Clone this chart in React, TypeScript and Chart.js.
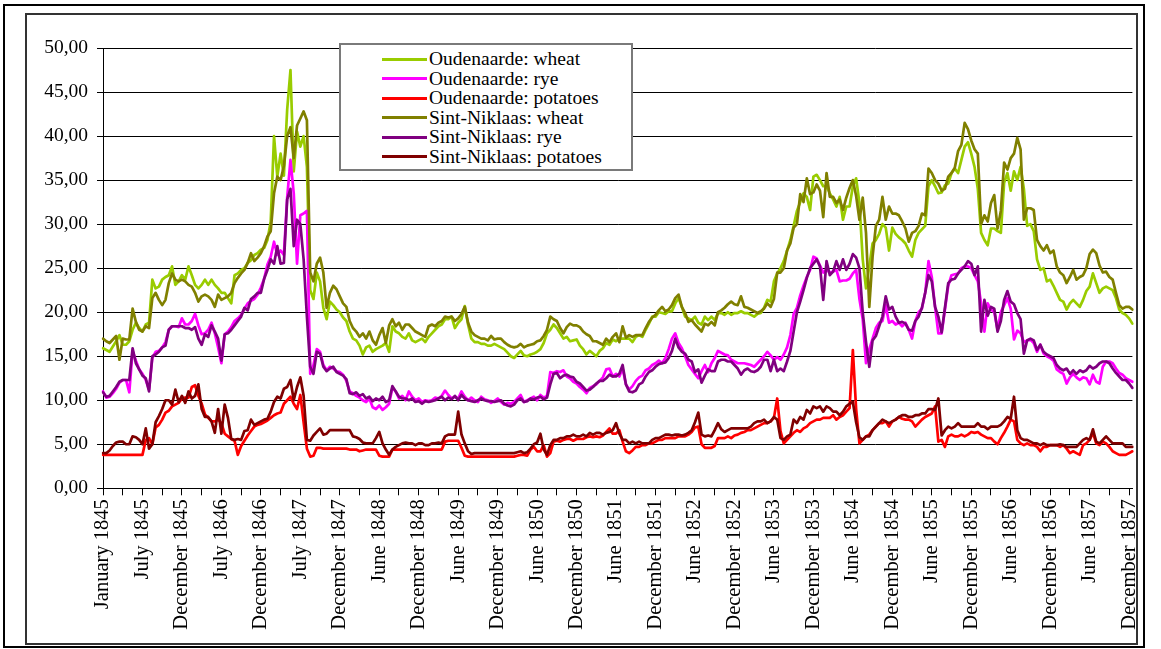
import React, { useEffect, useRef } from 'react';
import { Chart, registerables } from 'chart.js';

Chart.register(...registerables);

// Half-monthly observations, January 1845 - December 1857 (314 points)
const OUDENAARDE_WHEAT = [
  15.9, 15.7, 15.5, 16.1, 16.7, 17.4, 16.3, 16.3, 16.7, 18.0,
  18.8, 18.2, 17.8, 18.6, 18.8, 23.7, 22.7, 22.9, 23.7, 24.0,
  24.2, 25.2, 23.1, 23.5, 24.2, 23.7, 25.2, 24.2, 23.1, 22.7,
  23.1, 23.7, 23.1, 23.7, 23.1, 22.7, 22.2, 22.2, 21.6, 21.0,
  24.2, 24.4, 24.8, 25.0, 25.6, 25.9, 26.5, 26.7, 27.1, 27.3,
  28.2, 30.3, 40.0, 35.4, 38.0, 35.5, 43.0, 47.5, 36.0, 40.5,
  38.8, 40.0, 36.5, 22.5, 21.5, 24.5, 23.5, 20.5, 19.2, 21.2,
  20.8, 20.3, 20.0, 19.4, 19.0, 17.8, 17.0, 16.8, 16.2, 15.2,
  16.0, 16.2, 15.5, 15.8, 16.0, 16.2, 16.5, 15.5, 18.4, 17.8,
  17.6, 17.2, 17.0, 17.6, 16.8, 16.6, 16.8, 17.0, 16.6, 17.2,
  17.6, 18.0, 18.4, 18.6, 19.2, 19.2, 19.5, 18.2, 18.8, 19.2,
  20.7, 18.6, 17.0, 16.6, 16.6, 16.4, 16.4, 16.2, 16.2, 16.4,
  16.2, 16.0, 15.8, 15.4, 15.0, 14.8, 15.2, 15.6, 15.1, 15.0,
  15.2, 15.3, 15.5, 15.8, 16.5, 17.6, 18.0, 18.6, 18.2, 17.6,
  17.0, 17.2, 16.7, 16.8, 16.9, 16.2, 15.8, 15.2, 15.6, 15.3,
  15.0, 15.6, 15.9, 16.5, 16.3, 16.9, 16.7, 17.0, 17.0, 17.0,
  17.0, 16.6, 17.2, 17.4, 17.2, 18.0, 18.7, 19.5, 19.5, 20.0,
  19.9, 19.8, 20.1, 20.1, 21.0, 21.6, 20.6, 19.5, 19.3, 19.1,
  19.5, 18.8, 18.6, 19.5, 19.1, 19.5, 19.1, 19.9, 19.9, 19.7,
  20.0, 19.7, 19.9, 19.9, 20.1, 19.9, 19.9, 19.7, 19.5, 19.8,
  19.9, 20.5, 21.4, 21.2, 23.5, 24.4, 25.0, 25.8, 27.0, 28.2,
  29.8, 31.5, 32.5, 33.5, 33.1, 31.6, 35.4, 35.6, 35.0, 34.3,
  34.3, 33.5, 32.8, 32.0, 33.1, 30.5, 32.0, 32.0, 34.3, 35.2,
  32.4, 26.0, 22.7, 25.2, 27.8, 28.2, 28.9, 30.0, 29.6, 27.0,
  29.6, 28.9, 28.5, 28.2, 27.8, 27.0, 26.3, 28.2, 29.0, 29.4,
  29.8, 34.3, 35.0, 34.3, 33.5, 33.6, 34.4, 34.6, 35.8, 36.3,
  35.8, 37.3, 38.8, 39.3, 38.0, 36.5, 34.0, 29.0, 28.2, 27.6,
  29.5, 29.5, 29.2, 29.0, 34.7, 35.8, 33.8, 36.0, 35.0, 36.5,
  34.0, 29.8, 30.0, 29.2, 26.0, 24.8, 25.0, 23.5, 23.7, 23.0,
  22.2, 21.4, 21.2, 20.3, 21.0, 21.4, 21.0, 20.6, 21.4, 22.4,
  22.9, 24.4, 23.3, 22.2, 22.7, 22.9, 22.7, 22.5, 21.6, 20.3,
  19.9, 19.7, 19.3, 18.7,
];

const OUDENAARDE_RYE = [
  11.0, 10.3, 10.4, 10.8, 11.3, 12.0, 12.3, 12.3, 10.9, 15.6,
  14.5, 13.5, 13.0, 12.3, 11.2, 14.8, 15.5, 15.6, 16.0, 16.6,
  18.0, 18.4, 18.4, 18.3, 19.3, 18.6, 18.6, 19.0, 19.8, 18.5,
  17.5, 17.6, 18.0, 18.8, 17.6, 16.0, 14.2, 17.5, 17.8, 18.3,
  19.0, 19.3, 19.7, 20.4, 21.0, 21.3, 21.5, 22.0, 22.8, 23.8,
  25.4, 26.3, 28.0, 26.5, 27.0, 26.5, 33.0, 37.3, 33.5, 25.5,
  31.0, 31.2, 31.5, 13.0, 14.0, 15.8, 15.5, 14.0, 13.4, 13.8,
  13.6, 13.3, 13.2, 12.9, 12.2, 11.0, 10.8, 10.5, 10.3, 10.0,
  9.8, 10.2, 9.2, 9.0, 9.4, 8.9, 9.2, 9.6, 11.4, 11.0,
  10.2, 10.5, 10.0, 11.0, 10.4, 10.0, 10.2, 9.8, 10.0, 9.9,
  10.0, 10.3, 10.2, 10.5, 11.1, 10.6, 10.2, 10.4, 10.2, 11.0,
  10.4, 10.0, 10.3, 10.0, 9.8, 10.4, 10.1, 10.0, 9.7, 9.9,
  10.2, 9.8, 9.5, 9.7, 9.6, 9.8, 10.2, 10.6, 9.8, 10.0,
  10.2, 10.4, 10.0, 10.6, 10.3, 10.5, 13.2, 13.1, 13.3, 13.2,
  13.4, 12.7, 12.5, 12.1, 11.9, 11.5, 11.2, 10.8, 11.4, 11.6,
  11.8, 12.2, 12.6, 13.5, 13.6, 12.7, 13.0, 12.7, 13.6, 11.8,
  11.2, 11.6, 12.2, 12.6, 12.8, 13.4, 13.6, 14.0, 14.2, 14.5,
  14.2, 14.8, 15.8, 17.0, 17.6, 16.5, 15.9, 15.0, 14.0, 13.5,
  13.0, 12.5, 13.3, 14.0, 13.2, 14.2, 14.8, 15.6, 15.4, 15.2,
  15.1, 14.6, 14.4, 14.2, 14.2, 14.2, 14.1, 14.0, 13.8, 14.2,
  14.6, 15.0, 15.5, 15.1, 14.6, 14.9, 14.6, 15.2, 16.0, 17.4,
  19.8, 20.5, 21.9, 23.0, 24.0, 24.8, 26.3, 26.1, 25.3, 24.5,
  24.8, 24.5, 24.6, 24.8, 23.5, 23.6, 23.6, 23.8, 24.4, 24.8,
  21.5, 19.2, 14.2, 15.8, 17.0, 18.2, 18.8, 19.0, 20.8, 18.8,
  19.0, 18.6, 18.8, 18.4, 18.8, 18.0, 17.0, 19.0, 20.0, 20.4,
  22.2, 25.8, 24.0, 20.6, 17.6, 17.6, 20.3, 23.0, 24.2, 24.3,
  24.4, 25.0, 25.2, 25.2, 25.0, 24.2, 23.5, 21.0, 17.8, 21.0,
  20.3, 20.0, 18.0, 20.0, 20.8, 21.6, 20.4, 16.9, 17.9, 17.6,
  16.6, 16.8, 16.9, 16.5, 15.5, 16.3, 15.3, 15.0, 14.8, 14.5,
  13.5, 13.2, 13.0, 11.9, 12.6, 13.0, 12.6, 12.3, 12.6, 12.5,
  11.8, 12.9, 12.1, 11.9, 13.8, 14.4, 14.4, 14.2, 13.6, 13.1,
  12.9, 12.5, 12.3, 12.1,
];

const OUDENAARDE_POTATOES = [
  3.8, 3.8, 3.8, 3.8, 3.8, 3.8, 3.8, 3.8, 3.8, 3.8,
  3.8, 3.8, 3.8, 5.5, 5.7, 5.0, 6.9, 7.2, 7.8, 8.6,
  8.8, 9.3, 9.5, 9.7, 10.2, 10.3, 10.3, 11.5, 11.7, 10.5,
  9.6, 8.4, 8.0, 7.6, 7.6, 7.8, 7.4, 6.2, 5.9, 5.6,
  5.4, 3.8, 4.8, 5.4, 6.0, 6.5, 7.0, 7.2, 7.3, 7.5,
  7.7, 8.0, 8.3, 8.5, 8.6, 9.6, 10.0, 10.4, 9.6, 9.0,
  10.6, 7.5, 4.5, 3.6, 3.7, 4.6, 4.6, 4.5, 4.5, 4.5,
  4.5, 4.5, 4.5, 4.5, 4.5, 4.4, 4.4, 4.4, 4.2, 4.3,
  4.4, 4.4, 4.4, 4.4, 3.7, 3.6, 3.6, 3.6, 4.4, 4.4,
  4.4, 4.4, 4.4, 4.4, 4.4, 4.4, 4.4, 4.4, 4.4, 4.4,
  4.4, 4.4, 4.4, 4.4, 5.3, 5.4, 5.4, 5.4, 5.4, 4.6,
  3.7, 3.6, 3.6, 3.6, 3.6, 3.6, 3.6, 3.6, 3.6, 3.6,
  3.6, 3.6, 3.6, 3.6, 3.6, 3.6, 3.7, 3.8, 3.8, 3.7,
  4.4, 4.7, 4.2, 4.2, 4.9, 3.6, 4.0, 5.3, 5.4, 5.3,
  5.5, 5.6, 5.6, 5.4, 5.6, 5.6, 5.6, 5.8, 5.9, 5.8,
  5.9, 5.8, 6.0, 6.4, 6.8, 6.2, 6.2, 6.6, 5.3, 4.2,
  4.0, 4.3, 4.7, 4.7, 4.9, 4.9, 5.1, 5.1, 5.3, 5.5,
  5.5, 5.7, 5.7, 5.7, 5.7, 5.9, 5.9, 5.9, 6.1, 6.4,
  6.9, 7.0, 5.0, 4.6, 4.6, 4.6, 4.8, 5.7, 5.7, 5.7,
  5.9, 5.7, 6.0, 6.1, 6.3, 6.4, 6.6, 6.6, 6.8, 7.0,
  7.2, 7.4, 7.4, 7.6, 8.0, 10.2, 6.5, 5.1, 5.5, 5.9,
  6.3, 6.6, 6.4, 6.8, 7.0, 7.4, 7.6, 7.8, 7.8, 8.0,
  8.0, 8.0, 8.3, 7.8, 8.1, 8.3, 8.7, 9.1, 15.7, 9.0,
  5.1, 5.5, 5.9, 6.1, 6.6, 7.0, 7.4, 7.4, 7.6, 7.0,
  7.6, 7.8, 8.1, 7.9, 7.8, 7.8, 7.6, 7.0, 7.4, 7.8,
  8.1, 8.3, 8.5, 9.3, 5.3, 5.5, 4.7, 5.9, 6.1, 5.9,
  5.9, 6.1, 5.9, 6.1, 6.4, 6.3, 6.4, 6.1, 5.9, 5.7,
  5.7, 5.3, 5.0, 5.7, 6.3, 7.0, 7.8, 7.6, 5.5, 5.1,
  4.9, 5.1, 4.9, 4.9, 4.7, 4.2, 4.7, 4.7, 4.9, 4.9,
  4.9, 4.7, 4.9, 4.5, 4.0, 4.2, 4.0, 3.8, 4.9, 5.1,
  5.5, 6.3, 5.1, 4.9, 5.3, 5.1, 4.7, 4.2, 4.0, 3.8,
  3.8, 3.8, 4.0, 4.2,
];

const SINT_NIKLAAS_WHEAT = [
  17.0, 16.7, 16.5, 16.9, 17.3, 14.6, 17.0, 16.9, 16.9, 20.4,
  18.9, 18.0, 17.8, 18.4, 18.2, 21.6, 22.2, 21.4, 20.8, 21.4,
  23.3, 24.4, 23.7, 23.5, 23.7, 23.5, 23.1, 22.9, 22.2, 21.2,
  21.8, 22.0, 21.8, 21.4, 20.6, 22.0, 21.4, 21.6, 21.8, 22.2,
  23.3, 23.9, 24.4, 24.8, 25.6, 26.7, 25.8, 26.2, 26.7, 27.5,
  28.6, 29.2, 33.5, 35.4, 35.0, 36.6, 40.0, 41.0, 37.5, 41.2,
  42.0, 42.8, 41.8, 24.5, 23.5, 25.5, 26.2, 24.5, 20.5, 22.2,
  23.0, 22.6, 21.8, 21.0, 20.6, 19.0, 18.2, 17.8, 17.2, 17.6,
  17.0, 17.8, 16.8, 16.3, 17.4, 18.2, 16.5, 18.5, 19.2, 18.4,
  18.8, 18.0, 18.6, 18.6, 18.2, 17.8, 17.6, 17.4, 17.2, 18.4,
  18.6, 18.4, 18.8, 19.0, 19.5, 19.4, 19.5, 19.0, 19.3, 19.8,
  20.6, 18.8, 17.8, 17.4, 17.2, 17.0, 17.0, 16.8, 17.3, 16.9,
  17.0, 17.0, 16.6, 16.3, 16.1, 16.0, 16.1, 16.4, 16.0, 16.2,
  16.3, 16.4, 16.7, 16.8, 17.3, 18.0, 19.5, 19.2, 19.0, 18.2,
  17.6, 18.3, 18.7, 18.5, 18.5, 18.3, 17.8, 17.5, 17.3, 16.7,
  16.7, 16.5, 16.3, 17.0, 16.6, 17.2, 17.6, 16.6, 18.4, 17.1,
  17.4, 17.2, 17.4, 17.4, 17.4, 18.2, 18.9, 19.4, 19.7, 20.2,
  20.6, 20.1, 20.3, 20.8, 21.6, 22.0, 20.6, 19.9, 18.9, 19.1,
  18.6, 18.2, 17.8, 18.7, 18.5, 18.9, 18.5, 20.0, 20.2, 20.5,
  20.9, 21.2, 20.9, 20.8, 21.8, 20.6, 20.5, 20.3, 20.1, 19.9,
  20.1, 20.4, 21.0, 20.6, 21.5, 24.5, 24.5, 25.0, 27.0, 27.8,
  29.6, 30.0, 33.4, 32.5, 35.2, 33.4, 33.6, 34.5, 33.8, 30.8,
  35.8, 33.1, 33.1, 32.4, 32.8, 31.6, 33.0, 34.1, 35.0, 33.2,
  30.5, 33.0, 29.0, 20.6, 26.3, 29.8, 30.5, 33.1, 30.5, 32.0,
  31.2, 31.2, 31.0, 30.3, 29.5, 28.0, 29.0, 29.2, 29.8, 31.2,
  31.0, 36.3, 35.8, 35.0, 34.6, 33.8, 34.0, 35.4, 35.8, 36.4,
  38.3, 39.0, 41.5, 40.8, 39.5, 38.5, 38.0, 30.0, 31.0, 30.3,
  32.4, 33.3, 29.5, 31.5, 37.0, 36.2, 37.5, 38.0, 39.8, 38.5,
  30.5, 31.8, 31.8, 31.6, 28.2, 27.5, 27.0, 27.6, 26.7, 27.0,
  25.2, 24.5, 24.2, 23.3, 24.0, 24.8, 23.7, 24.0, 24.2, 25.0,
  26.6, 27.1, 26.7, 25.3, 24.5, 24.6, 24.0, 23.7, 22.2, 20.8,
  20.4, 20.6, 20.6, 20.3,
];

const SINT_NIKLAAS_RYE = [
  10.9, 10.4, 10.5, 11.0, 11.5, 12.1, 12.3, 12.3, 12.3, 15.9,
  14.2, 13.5, 12.8, 12.5, 11.0, 15.0, 15.2, 15.5, 16.0, 16.2,
  18.0, 18.4, 18.4, 18.4, 18.4, 18.2, 18.2, 18.0, 18.3, 17.0,
  16.3, 17.5, 17.2, 18.5, 17.8, 17.0, 14.5, 17.5, 17.6, 18.0,
  18.5, 19.0, 19.5, 20.5, 20.2, 21.5, 21.8, 22.2, 22.2, 23.8,
  24.8, 26.0, 25.5, 27.5, 25.5, 25.6, 32.8, 34.0, 27.5, 30.5,
  30.0, 26.0, 19.5, 13.8, 13.0, 15.5, 15.3, 13.8, 13.3, 13.6,
  13.8, 13.2, 13.0, 12.8, 12.4, 10.8, 10.7, 10.9, 10.5, 10.7,
  10.2, 10.4, 9.9, 10.2, 10.0, 10.4, 9.8, 10.0, 11.6, 11.0,
  10.4, 10.2, 10.2, 10.0, 10.2, 9.8, 9.9, 9.6, 9.9, 9.8,
  9.9, 10.0, 10.2, 10.4, 10.0, 10.3, 10.1, 10.5, 10.0, 10.6,
  10.2, 10.0, 9.9, 9.8, 10.0, 10.2, 10.0, 9.9, 9.9, 9.8,
  9.9, 10.0, 9.6, 9.4, 9.3, 9.5, 10.0, 10.2, 9.8, 9.9,
  10.2, 10.1, 10.3, 10.4, 10.1, 10.3, 11.8, 13.0, 13.1, 12.5,
  12.8, 12.9, 12.7, 12.6, 12.1, 11.9, 11.5, 11.1, 11.2, 11.5,
  11.9, 12.2, 12.2, 12.5, 12.9, 12.7, 12.7, 13.0, 14.0, 11.8,
  11.0, 10.9, 11.1, 11.8, 12.0, 12.7, 13.2, 13.4, 13.8, 14.1,
  14.2, 14.3, 14.8, 15.6, 17.0, 16.0, 15.5, 15.3, 14.6, 14.4,
  13.2, 13.5, 12.0, 12.8, 13.5, 13.3, 13.3, 14.4, 14.6, 14.6,
  14.4, 14.4, 14.0, 13.6, 12.9, 13.4, 13.6, 13.3, 13.2, 13.4,
  13.8, 14.6, 14.6, 13.3, 14.6, 13.3, 13.6, 13.3, 14.4, 15.6,
  17.8, 20.0, 21.2, 22.5, 23.9, 25.0, 25.5, 26.0, 25.2, 21.4,
  25.8, 24.2, 24.6, 25.8, 24.8, 26.0, 24.8, 25.5, 26.6, 26.2,
  25.0, 20.0, 16.6, 13.8, 16.8, 17.3, 18.4, 19.5, 21.8, 20.3,
  20.6, 19.5, 18.8, 18.9, 18.7, 18.0, 17.9, 19.0, 19.5, 20.5,
  22.2, 24.2, 23.5, 20.6, 19.5, 17.7, 20.5, 23.3, 23.7, 23.8,
  24.4, 24.8, 25.2, 25.8, 25.5, 24.2, 25.2, 17.8, 21.4, 19.6,
  20.6, 20.4, 17.8, 19.0, 21.4, 22.4, 21.2, 20.9, 19.9, 19.2,
  15.3, 16.8, 17.0, 16.8, 15.7, 16.3, 15.5, 15.2, 15.0, 14.8,
  14.0, 13.6, 13.4, 13.6, 13.0, 13.4, 13.0, 13.4, 13.2, 13.4,
  13.9, 13.6, 13.8, 14.2, 14.4, 14.4, 14.2, 13.6, 13.1, 12.7,
  12.3, 12.3, 11.9, 11.4,
];

const SINT_NIKLAAS_POTATOES = [
  4.0, 4.0, 4.3, 4.8, 5.2, 5.3, 5.3, 5.0, 5.0, 5.9,
  5.8, 5.5, 5.0, 6.8, 4.5, 5.0, 7.5, 8.2, 9.0, 10.0,
  10.0, 9.5, 11.2, 9.8, 10.5, 9.7, 11.0, 10.2, 10.5, 11.8,
  9.0, 8.1, 8.1, 7.6, 6.3, 9.0, 6.2, 9.5, 8.0, 5.6,
  5.5, 5.6, 5.5, 6.5, 6.6, 7.8, 7.2, 7.4, 7.6, 7.8,
  7.9, 8.7, 9.8, 10.4, 10.2, 11.3, 11.5, 12.3, 10.0, 11.5,
  12.6, 10.5, 5.5, 5.4, 6.0, 6.4, 6.8, 6.1, 6.2, 6.6,
  6.6, 6.6, 6.6, 6.6, 6.6, 6.6, 5.9, 5.8, 5.6, 5.2,
  5.1, 5.1, 5.1, 5.7, 6.4, 5.1, 4.4, 3.8, 4.4, 4.7,
  4.9, 5.1, 5.2, 5.1, 5.1, 4.9, 5.1, 5.1, 4.9, 4.9,
  5.1, 5.1, 5.2, 5.1, 5.9, 6.1, 6.1, 6.1, 8.7, 6.1,
  5.1, 4.2, 3.9, 4.0, 4.0, 4.0, 4.0, 4.0, 4.0, 4.0,
  4.0, 4.0, 4.0, 4.0, 4.0, 4.0, 4.1, 4.2, 4.0, 4.1,
  4.5, 5.0, 5.2, 6.2, 4.4, 3.8, 4.9, 5.5, 5.5, 5.7,
  5.7, 5.9, 5.9, 6.1, 5.9, 5.9, 6.1, 5.9, 6.3, 6.1,
  6.3, 6.3, 6.1, 6.3, 6.4, 6.6, 7.4, 6.2, 5.5, 5.5,
  5.1, 5.3, 5.1, 5.3, 5.1, 5.1, 5.1, 5.5, 5.7, 5.7,
  5.9, 6.1, 6.1, 6.0, 6.1, 6.1, 6.0, 6.1, 6.3, 6.6,
  7.5, 8.6, 6.1, 5.9, 6.0, 5.9, 6.6, 7.4, 6.7, 6.4,
  6.6, 6.8, 6.8, 6.8, 6.8, 6.8, 6.8, 7.0, 7.4, 7.6,
  7.6, 7.8, 7.4, 7.6, 8.1, 7.8, 5.7, 5.5, 5.9, 6.1,
  7.8, 7.4, 8.1, 7.8, 8.9, 8.5, 9.3, 9.1, 9.3, 8.7,
  9.3, 9.1, 8.7, 8.7, 8.3, 8.7, 9.3, 9.6, 9.8, 7.5,
  5.8, 5.5, 5.9, 5.9, 6.6, 7.0, 7.4, 7.8, 7.6, 7.4,
  7.6, 7.8, 8.1, 8.3, 8.3, 8.1, 8.1, 8.3, 8.3, 8.5,
  8.5, 9.0, 9.0, 8.9, 10.2, 6.0, 6.6, 7.0, 6.8, 7.0,
  7.4, 7.0, 7.0, 7.0, 7.0, 7.0, 7.4, 7.0, 7.0, 6.7,
  7.0, 7.0, 7.0, 7.2, 7.6, 8.1, 7.9, 10.4, 6.6, 5.7,
  5.5, 5.5, 5.3, 5.1, 5.1, 4.9, 5.1, 4.9, 4.9, 4.9,
  4.9, 5.0, 4.9, 4.7, 4.7, 4.7, 4.7, 5.1, 5.5, 5.7,
  5.5, 6.7, 5.3, 5.1, 5.5, 5.9, 5.5, 5.1, 5.1, 5.1,
  5.1, 4.7, 4.7, 4.7,
];

// Axis labels shown every 12th observation (26 weeks)
const TICK_LABELS = [
  'January 1845', 'July 1845', 'December 1845', 'July 1846', 'December 1846',
  'July 1847', 'December 1847', 'June 1848', 'December 1848', 'June 1849',
  'December 1849', 'June 1850', 'December 1850', 'June 1851', 'December 1851',
  'June 1852', 'December 1852', 'June 1853', 'December 1853', 'June 1854',
  'December 1854', 'June 1855', 'December 1855', 'June 1856', 'December 1856',
  'June 1857', 'December 1857',
];

const SERIES_NAMES = [
  'Oudenaarde: wheat',
  'Oudenaarde: rye',
  'Oudenaarde: potatoes',
  'Sint-Niklaas: wheat',
  'Sint-Niklaas: rye',
  'Sint-Niklaas: potatoes',
];
const SERIES_VALUES = [
  OUDENAARDE_WHEAT,
  OUDENAARDE_RYE,
  OUDENAARDE_POTATOES,
  SINT_NIKLAAS_WHEAT,
  SINT_NIKLAAS_RYE,
  SINT_NIKLAAS_POTATOES,
];
const SERIES_COLORS = ['#99CC00', '#FF00FF', '#FF0000', '#808000', '#800080', '#800000'];

const PERIODS = OUDENAARDE_WHEAT.map((_, i) => String(i));

const FONT = "'Liberation Serif', 'Times New Roman', serif";

export default function App() {
  const canvasRef = useRef<HTMLCanvasElement | null>(null);

  useEffect(() => {
    const canvas = canvasRef.current;
    if (!canvas) return;
    const chart = new Chart(canvas, {
      type: 'line',
      data: {
        labels: PERIODS,
        datasets: SERIES_NAMES.map((name, k) => ({
          label: name,
          data: SERIES_VALUES[k],
          borderColor: SERIES_COLORS[k],
          backgroundColor: SERIES_COLORS[k],
          borderWidth: 2.7,
          pointRadius: 0,
          tension: 0,
          fill: false,
          order: SERIES_NAMES.length - k,
        })),
      },
      options: {
        animation: false,
        responsive: false,
        maintainAspectRatio: false,
        devicePixelRatio: 1,
        layout: { padding: { left: 0, top: 48, right: 25, bottom: 10.7 } },
        elements: {
          line: { borderJoinStyle: 'round', borderCapStyle: 'round' },
          point: { radius: 0 },
        },
        plugins: {
          legend: { display: false },
          tooltip: { enabled: false },
        },
        scales: {
          x: {
            type: 'category',
            offset: false,
            grid: {
              display: true,
              drawOnChartArea: false,
              drawTicks: true,
              tickLength: 7,
              tickWidth: 1,
              tickColor: (ctx: any) => (ctx.index % 6 === 0 ? '#000000' : 'rgba(0,0,0,0)'),
            },
            border: { display: true, color: '#000000', width: 1 },
            ticks: {
              autoSkip: false,
              minRotation: 90,
              maxRotation: 90,
              padding: 4,
              color: '#000000',
              font: { family: FONT, size: 20.5 },
              callback: (_v: any, i: number) => (i % 12 === 0 ? TICK_LABELS[i / 12] : ''),
            },
            afterFit: (scale: any) => {
              scale.height = 150;
            },
          },
          y: {
            min: 0,
            max: 50,
            grid: {
              color: '#000000',
              lineWidth: 1,
              drawTicks: true,
              tickLength: 6,
              tickColor: '#000000',
            },
            border: { display: true, color: '#000000', width: 1 },
            ticks: {
              stepSize: 5,
              padding: 9,
              color: '#000000',
              font: { family: FONT, size: 19.5 },
              callback: (v: any) => Number(v).toFixed(2).replace('.', ','),
            },
            afterFit: (scale: any) => {
              scale.width = 103;
            },
          },
        },
      },
    });
    return () => chart.destroy();
  }, []);

  const legendLeft = 339;
  const legendTop = 43;

  return (
    <div style={{ position: 'absolute', left: 0, top: 0, width: 1161, height: 649, background: '#ffffff', overflow: 'hidden' }}>
      <canvas ref={canvasRef} width={1161} height={649} style={{ position: 'absolute', left: 0, top: 0, width: 1161, height: 649 }} />
      {/* inner chart border */}
      <div style={{ position: 'absolute', left: 25, top: 13, width: 1113, height: 632, boxSizing: 'border-box', border: '2px solid #333333', pointerEvents: 'none' }} />
      {/* outer frame */}
      <div style={{ position: 'absolute', left: 3, top: 4, width: 1142, height: 644, boxSizing: 'border-box', border: '2px solid #000000', pointerEvents: 'none' }} />
      {/* legend */}
      <div
        style={{
          position: 'absolute',
          left: legendLeft,
          top: legendTop,
          width: 294,
          height: 128,
          boxSizing: 'border-box',
          border: '2px solid #7a7a7a',
          background: '#ffffff',
        }}
      >
        {SERIES_NAMES.map((name, k) => {
          const cy = 59 + k * 19.54 - legendTop - 2;
          return (
            <React.Fragment key={name}>
              <div
                style={{
                  position: 'absolute',
                  left: 382 - legendLeft - 2,
                  top: cy - 1.5,
                  width: 45,
                  height: 3,
                  background: SERIES_COLORS[k],
                }}
              />
              <div
                style={{
                  position: 'absolute',
                  left: 429 - legendLeft - 2,
                  top: cy - 11,
                  height: 22,
                  lineHeight: '22px',
                  fontFamily: FONT,
                  fontSize: 19.5,
                  color: '#000000',
                  whiteSpace: 'nowrap',
                }}
              >
                {name}
              </div>
            </React.Fragment>
          );
        })}
      </div>
    </div>
  );
}
